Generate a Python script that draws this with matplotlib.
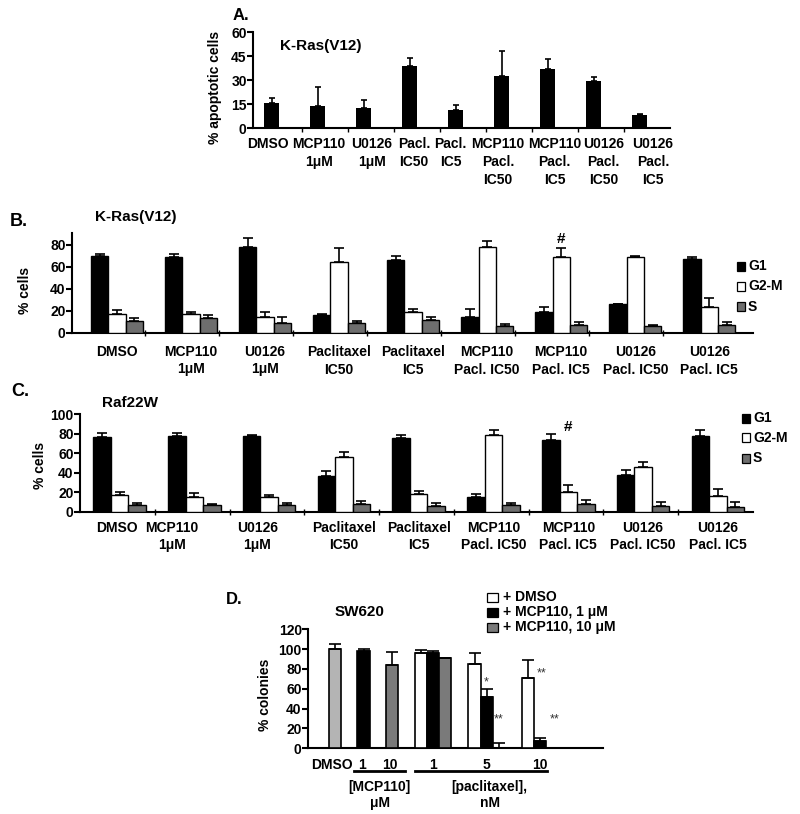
import matplotlib
matplotlib.use('Agg')
import matplotlib.pyplot as plt
import numpy as np
from matplotlib.patches import Rectangle
from matplotlib.lines import Line2D
from matplotlib.transforms import blended_transform_factory

plt.rcParams['font.family'] = ['Liberation Sans', 'DejaVu Sans']
plt.rcParams['font.weight'] = 'bold'
plt.rcParams['axes.labelweight'] = 'bold'

# ---------------- data ----------------
# Panel A: % apoptotic cells, K-Ras(V12)
a_labels = ["DMSO", "MCP110\n1μM", "U0126\n1μM", "Pacl.\nIC50", "Pacl.\nIC5",
            "MCP110\nPacl.\nIC50", "MCP110\nPacl.\nIC5", "U0126\nPacl.\nIC50", "U0126\nPacl.\nIC5"]
a_values = [15.5, 13.9, 12.4, 38.7, 11.2, 32.5, 36.8, 29.4, 7.9]
a_err = [3.1, 11.6, 4.8, 4.8, 3.3, 15.7, 6.5, 2.7, 0.8]

# Panels B and C: cell cycle
cc_labels = ["DMSO", "MCP110\n1μM", "U0126\n1μM", "Paclitaxel\nIC50", "Paclitaxel\nIC5",
             "MCP110\nPacl. IC50", "MCP110\nPacl. IC5", "U0126\nPacl. IC50", "U0126\nPacl. IC5"]
phases = ["G1", "G2-M", "S"]

b_g1 = [70.3, 69.4, 77.8, 16.1, 66.3, 14.6, 18.8, 26.4, 67.5]
b_g1_err = [1.5, 2.4, 8.8, 0.9, 3.6, 7.0, 4.3, 0.0, 1.2]
b_g2m = [17.5, 17.5, 14.0, 64.7, 18.5, 77.8, 68.7, 68.7, 23.1]
b_g2m_err = [3.0, 1.2, 4.5, 12.2, 3.1, 5.8, 8.8, 0.9, 8.8]
b_s = [10.3, 13.3, 8.5, 8.5, 11.2, 5.8, 7.0, 5.8, 7.0]
b_s_err = [2.7, 2.7, 5.5, 2.4, 2.8, 2.4, 2.7, 1.2, 2.7]

c_g1 = [77.0, 78.0, 77.7, 36.4, 76.0, 14.8, 73.3, 38.0, 78.0]
c_g1_err = [3.5, 2.5, 1.3, 5.2, 3.0, 3.4, 6.5, 4.8, 6.2]
c_g2m = [16.8, 15.4, 15.5, 56.0, 18.2, 79.0, 19.9, 45.5, 16.4]
c_g2m_err = [3.1, 3.4, 1.7, 5.5, 3.4, 4.5, 7.5, 5.2, 6.6]
c_s = [7.2, 6.8, 7.2, 7.6, 5.8, 7.2, 7.9, 6.2, 4.5]
c_s_err = [2.0, 1.4, 1.4, 3.7, 3.1, 1.7, 4.1, 4.1, 5.8]

# Panel D: % colonies, SW620
d_single_labels = ["DMSO", "1", "10"]
d_single_vals = [100.0, 98.3, 84.3]
d_single_err = [5.0, 2.3, 13.3]
d_pacl_doses = ["1", "5", "10"]
d_plus_dmso = [95.6, 85.0, 71.0]
d_plus_dmso_err = [4.0, 10.6, 18.0]
d_plus_mcp1 = [96.3, 51.3, 7.3]
d_plus_mcp1_err = [1.7, 8.7, 3.4]
d_plus_mcp10 = [90.6, 0.5, 0.3]
d_plus_mcp10_err = [0.0, 5.2, 0.0]
d_legend = ["+ DMSO", "+ MCP110, 1 μM", "+ MCP110, 10 μM"]

# ---------------- layout helpers ----------------
W, H = 800, 814
fig = plt.figure(figsize=(8, 8.14), dpi=100)


def ax_px(l, t, r, b):
    return fig.add_axes([l / W, 1 - b / H, (r - l) / W, (b - t) / H])


def ftext(x, y, s, **kw):
    kw.setdefault('va', 'center')
    return fig.text(x / W, 1 - y / H, s, **kw)


def frect(x, y, w, h, fc):
    fig.add_artist(Rectangle((x / W, 1 - (y + h) / H), w / W, h / H, facecolor=fc,
                             edgecolor='black', linewidth=0.9, transform=fig.transFigure))


def style(ax, lw=1.5):
    for sp in ['top', 'right']:
        ax.spines[sp].set_visible(False)
    for sp in ['left', 'bottom']:
        ax.spines[sp].set_linewidth(lw)
    ax.tick_params(axis='y', direction='out', length=4, width=lw, pad=0.5, labelsize=10)


def up_err(ax, x, v, e, cap=3.5):
    ax.errorbar(x, v, yerr=[np.zeros(len(v)), e], fmt='none', ecolor='black',
                elinewidth=1.2, capsize=cap, capthick=1.2, zorder=4)


GRAY = '#6e6e6e'

# ---------------- Panel A ----------------
axA = ax_px(253, 32, 670, 128)
style(axA)
xa = np.arange(len(a_values))
axA.bar(xa, a_values, 0.33, color='black', zorder=3)
up_err(axA, xa, a_values, a_err, cap=2.5)
axA.set_ylim(0, 60)
axA.set_yticks([0, 15, 30, 45, 60])
axA.set_xlim(-0.41, 8.66)
a_label_shift = [-0.09, 0.02, 0.17, 0.09, -0.11, -0.08, 0.15, 0.22, 0.29]
axA.set_xticks(xa + np.array(a_label_shift), a_labels, fontsize=10)
axA.set_xticks(xa[:-1] + 0.66, minor=True)
axA.tick_params(axis='x', which='major', length=0, pad=6.5)
axA.tick_params(axis='x', which='minor', length=3, width=1, direction='out')
for lab in axA.get_xticklabels():
    lab.set_linespacing(1.35)
axA.set_ylabel("% apoptotic cells", fontsize=10, labelpad=2)
axA.yaxis.set_label_coords((222 - 253) / 417, 0.42)
ftext(233, 15, "A.", fontsize=12)
ftext(280, 46, "K-Ras(V12)", fontsize=11)


# ---------------- Panels B / C ----------------
def cell_cycle(ax, g1, g1e, g2, g2e, s, se, w):
    x = np.arange(len(g1))
    for off, vals, errs, col in [(-w, g1, g1e, 'black'), (0, g2, g2e, 'white'), (w, s, se, GRAY)]:
        ax.bar(x + off, vals, w, color=col, edgecolor='black', linewidth=1.0, zorder=3)
        up_err(ax, x + off, vals, errs)
    return x


axB = ax_px(72, 232.7, 753, 332.7)
style(axB)
xb = cell_cycle(axB, b_g1, b_g1_err, b_g2m, b_g2m_err, b_s, b_s_err, 0.235)
axB.set_ylim(0, 91.2)
axB.set_yticks([0, 20, 40, 60, 80])
axB.set_xlim(-0.608, 8.59)
axB.set_xticks(xb, cc_labels, fontsize=10)
axB.set_xticks(xb[:-1] + 0.38, minor=True)
axB.tick_params(axis='x', which='major', length=0, pad=9)
axB.tick_params(axis='x', which='minor', length=4, width=1, direction='inout')
for lab in axB.get_xticklabels():
    lab.set_linespacing(1.3)
axB.set_ylabel("% cells", fontsize=10)
axB.yaxis.set_label_coords((32 - 72) / 681, 0.42)
axB.text(6, 85.5, "#", ha='center', va='center', fontsize=11)
ftext(10, 222, "B.", fontsize=13)
ftext(95, 217, "K-Ras(V12)", fontsize=11)
for i, (ph, col) in enumerate(zip(phases, ['black', 'white', GRAY])):
    yy = 266 + 20.3 * i
    frect(737, yy - 4.5, 8, 9, col)
    ftext(748, yy, ph, fontsize=10)

axC = ax_px(80, 414.3, 753, 511.7)
style(axC)
xc = cell_cycle(axC, c_g1, c_g1_err, c_g2m, c_g2m_err, c_s, c_s_err, 0.234)
axC.set_ylim(0, 100)
axC.set_yticks([0, 20, 40, 60, 80, 100])
axC.set_xlim(-0.53, 8.47)
c_label_shift = [-0.03, -0.3, -0.16, 0, 0, 0, 0, 0, 0]
axC.set_xticks(xc + np.array(c_label_shift), cc_labels, fontsize=10)
axC.set_xticks(xc[:-1] + 0.47, minor=True)
axC.tick_params(axis='x', which='major', length=0, pad=7)
axC.tick_params(axis='x', which='minor', length=4, width=1, direction='inout')
for lab in axC.get_xticklabels():
    lab.set_linespacing(1.2)
axC.set_ylabel("% cells", fontsize=10)
axC.yaxis.set_label_coords((47 - 80) / 673, 0.48)
axC.text(6, 87, "#", ha='center', va='center', fontsize=11)
ftext(11, 392, "C.", fontsize=13)
ftext(102, 403, "Raf22W", fontsize=11)
for i, (ph, col) in enumerate(zip(phases, ['black', 'white', GRAY])):
    yy = 418 + 20 * i
    frect(742, yy - 4.5, 8, 9, col)
    ftext(753, yy, ph, fontsize=10)

# ---------------- Panel D ----------------
axD = ax_px(308, 629.3, 603, 748.3)
style(axD)
wd = 0.43
xs = np.arange(len(d_single_vals))
axD.bar(xs, d_single_vals, wd, color=['#b4b4b4', 'black', '#7a7a7a'], edgecolor='black',
        linewidth=1.2, zorder=3)
up_err(axD, xs, d_single_vals, d_single_err, cap=4)
xp = 3.47 + 1.9 * np.arange(len(d_pacl_doses))
for off, vals, errs, col in [(-wd, d_plus_dmso, d_plus_dmso_err, 'white'),
                             (0, d_plus_mcp1, d_plus_mcp1_err, 'black'),
                             (wd, d_plus_mcp10, d_plus_mcp10_err, '#7a7a7a')]:
    axD.bar(xp + off, vals, wd, color=col, edgecolor='black', linewidth=1.2, zorder=3)
    up_err(axD, xp + off, vals, errs, cap=4)
axD.set_ylim(0, 120)
axD.set_yticks(range(0, 121, 20))
axD.set_xlim(-0.97, 9.5)
axD.set_xticks(list(xs - np.array([0.13, 0.07, 0.07])) + list(xp),
               d_single_labels + d_pacl_doses, fontsize=10)
axD.tick_params(axis='x', length=0, pad=7)
axD.set_ylabel("% colonies", fontsize=10)
axD.yaxis.set_label_coords((272 - 308) / 295, 0.45)
tr = blended_transform_factory(axD.transData, fig.transFigure)
ly = 1 - 770.7 / H
axD.add_line(Line2D([0.68, 2.48], [ly, ly], transform=tr, color='black', lw=2, clip_on=False))
axD.add_line(Line2D([2.84, 7.52], [ly, ly], transform=tr, color='black', lw=2, clip_on=False))
axD.text(1.58, 1 - 795 / H, "[MCP110]\nμM", transform=tr, ha='center', va='center',
         fontsize=10, linespacing=1.25)
axD.text(5.48, 1 - 795 / H, "[paclitaxel],\nnM", transform=tr, ha='center', va='center',
         fontsize=10, linespacing=1.25)
ast_kw = dict(ha='center', va='center', fontsize=9, fontweight='normal', color='#333333')
axD.text(xp[1], 66, "*", **ast_kw)
axD.text(xp[1] + wd, 29.5, "**", **ast_kw)
axD.text(xp[2] + 0.05, 75, "**", **ast_kw)
axD.text(xp[2] + 0.53, 29.5, "**", **ast_kw)
ftext(226, 600, "D.", fontsize=12)
ftext(335, 612, "SW620", fontsize=11)
for i, (lab, col) in enumerate(zip(d_legend, ['white', 'black', '#7a7a7a'])):
    yy = 597 + 15 * i
    frect(487, yy - 4.5, 11, 9, col)
    ftext(503, yy, lab, fontsize=10)

fig.savefig("out.png", dpi=100)
